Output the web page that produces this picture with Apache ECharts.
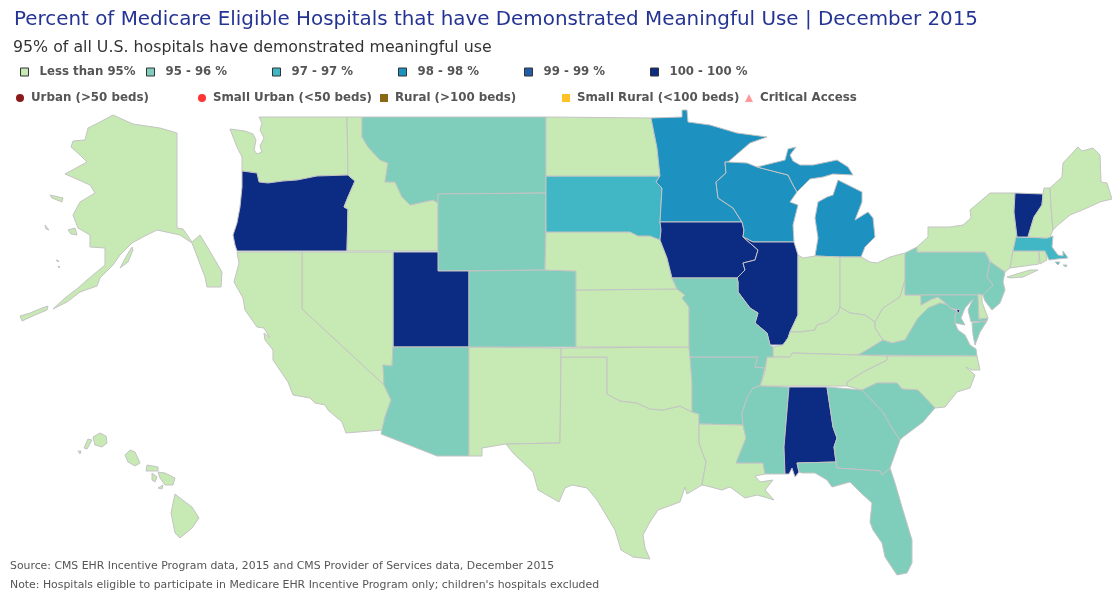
<!DOCTYPE html>
<html><head><meta charset="utf-8">
<style>html,body{margin:0;padding:0;background:#fff}#c{width:1112px;height:600px}</style>
<script src="https://cdn.jsdelivr.net/npm/echarts@6/dist/echarts.min.js"></script>
</head><body><div id="c"></div>
<script>
const titleText = "Percent of Medicare Eligible Hospitals that have Demonstrated Meaningful Use | December 2015";
const subtitleText = "95% of all U.S. hospitals have demonstrated meaningful use";
const sourceText = "Source: CMS EHR Incentive Program data, 2015 and CMS Provider of Services data, December 2015";
const noteText = "Note: Hospitals eligible to participate in Medicare EHR Incentive Program only; children's hospitals excluded";

const bucketLabels = ["Less than 95%","95 - 96 %","97 - 97 %","98 - 98 %","99 - 99 %","100 - 100 %"];
const bucketColors = ["#C7E9B4","#7FCDBB","#41B6C4","#1D91C0","#225EA8","#0C2C84"];
const hospitalLabels = ["Urban (>50 beds)","Small Urban (<50 beds)","Rural (>100 beds)","Small Rural (<100 beds)","Critical Access"];
const hospitalColors = ["#8B1A1A","#FF3333","#8B6914","#FFC125","#FF9999"];
const hospitalIcons = ["circle","circle","rect","rect","triangle"];

const stateBuckets = {
  AK:0,AL:5,AR:1,AZ:1,CA:0,CO:1,CT:0,DC:5,DE:0,FL:1,GA:1,HI:0,IA:5,ID:0,IL:5,IN:0,KS:0,KY:0,LA:0,MA:2,MD:1,ME:0,MI:3,MN:3,
  MO:1,MS:1,MT:1,NC:0,ND:0,NE:0,NH:0,NJ:1,NM:0,NV:0,NY:0,OH:0,OK:0,OR:5,PA:1,RI:0,SC:1,SD:2,TN:0,TX:0,UT:5,VA:1,VT:5,WA:0,WI:3,WV:0,WY:1
};

// Map outline resource (no US map ships with ECharts): simplified state shapes in map units.
const stateShapes = {
WA:[[[259,117],[347,117],[348,175],[317,176],[297,180],[283,181],[268,183],[259,182],[257,173],[242,171],[242,157],[237,147],[230,129],[245,131],[253,134],[256,140],[254,150],[257,154],[262,152],[260,146],[264,138],[260,130],[262,123]]],
OR:[[[242,171],[257,173],[259,182],[268,183],[283,181],[297,180],[317,176],[348,175],[355,181],[348,197],[344,207],[348,209],[347,251],[237,251],[235,245],[233,235],[237,223],[240,207],[242,187]]],
ID:[[[347,117],[362,117],[362,137],[368,147],[380,160],[388,163],[385,182],[395,182],[402,197],[410,205],[433,200],[438,203],[438,251],[347,251],[348,209],[344,207],[348,197],[355,181],[348,175]]],
MT:[[[362,117],[546,117],[546,193],[438,194],[438,203],[433,200],[410,205],[402,197],[395,182],[385,182],[388,163],[380,160],[368,147],[362,137]]],
WY:[[[438,194],[546,193],[545,270],[438,271]]],
UT:[[[393,252],[438,252],[438,271],[469,271],[469,347],[393,347]]],
NV:[[[302,252],[393,252],[393,347],[392,366],[383,365],[384,385],[302,309]]],
CA:[[[237,252],[302,252],[302,309],[384,385],[391,400],[385,417],[382,430],[346,433],[342,422],[328,410],[325,405],[315,403],[310,398],[293,395],[288,382],[273,360],[273,350],[265,340],[264,333],[270,338],[264,328],[257,327],[245,310],[243,298],[234,282],[239,263]]],
AZ:[[[393,347],[469,347],[469,456],[437,456],[381,434],[382,430],[385,417],[391,400],[384,385],[383,365],[392,366]]],
NM:[[[469,347],[561,348],[561,357],[560,443],[506,444],[482,448],[482,456],[469,456]]],
CO:[[[469,271],[545,270],[576,271],[576,347],[469,347]]],
TX:[[[561,357],[607,357],[607,394],[620,401],[637,403],[650,409],[663,410],[680,406],[692,412],[699,414],[699,443],[706,462],[702,485],[687,494],[685,487],[680,502],[658,510],[650,522],[643,535],[645,548],[650,559],[633,557],[621,550],[615,530],[597,500],[587,488],[572,485],[565,488],[559,502],[538,490],[533,472],[513,453],[506,444],[560,443]]],
OK:[[[561,348],[689,347],[690,357],[692,383],[692,412],[680,406],[663,410],[650,409],[637,403],[620,401],[607,394],[607,357],[561,357]]],
KS:[[[576,290],[677,289],[685,295],[682,298],[689,307],[689,347],[576,347]]],
NE:[[[546,232],[630,232],[638,236],[650,236],[661,240],[667,258],[672,278],[677,289],[576,290],[576,271],[545,270]]],
SD:[[[546,176],[660,176],[656,182],[662,188],[660,222],[661,230],[660,240],[650,236],[638,236],[630,232],[546,232]]],
ND:[[[546,117],[651,118],[657,148],[660,176],[546,176]]],
MN:[[[651,118],[682,117],[682,110],[687,110],[688,122],[710,125],[737,133],[767,137],[750,143],[728,162],[725,162],[726,173],[716,182],[718,198],[733,208],[742,222],[660,222],[662,188],[656,182],[660,176],[657,148]]],
IA:[[[660,222],[742,222],[744,230],[743,237],[758,250],[755,260],[743,263],[745,270],[737,278],[672,278],[667,258],[660,240],[661,230]]],
WI:[[[725,162],[728,162],[747,163],[757,167],[788,175],[793,185],[797,192],[790,202],[798,205],[793,225],[794,242],[753,242],[743,237],[744,230],[742,222],[733,208],[718,198],[716,182],[726,173]]],
IL:[[[753,242],[794,242],[798,255],[798,305],[798,315],[790,332],[788,338],[783,345],[770,345],[767,333],[755,323],[758,313],[750,308],[738,292],[738,282],[737,278],[745,270],[743,263],[755,260],[758,250],[743,237]]],
MI:[[[815,256],[840,257],[861,257],[865,247],[875,237],[873,218],[868,212],[855,220],[862,202],[862,192],[838,180],[833,195],[827,197],[818,202],[815,218],[818,238]],
    [[757,167],[785,160],[788,149],[796,147],[790,155],[793,161],[800,165],[813,165],[837,160],[848,167],[853,175],[833,174],[823,177],[810,179],[797,192],[793,185],[788,175]]],
IN:[[[798,255],[803,258],[815,256],[840,257],[840,307],[838,313],[827,322],[817,325],[815,330],[800,332],[790,332],[798,315],[798,305]]],
OH:[[[840,257],[861,257],[870,262],[877,263],[890,257],[905,253],[905,280],[900,297],[883,308],[875,322],[865,315],[850,313],[840,307]]],
KY:[[[783,345],[788,338],[790,332],[800,332],[815,330],[817,325],[827,322],[838,313],[840,307],[850,313],[865,315],[875,322],[875,328],[883,340],[867,350],[858,355],[792,353],[790,357],[773,357],[773,347]]],
WV:[[[905,280],[905,295],[921,295],[921,305],[932,299],[938,297],[948,305],[940,303],[928,308],[918,318],[905,340],[892,343],[883,340],[875,328],[875,322],[883,308],[900,297]]],
PA:[[[905,253],[917,247],[917,252],[985,252],[990,262],[987,277],[993,285],[983,295],[905,295]]],
MD:[[[921,295],[978,295],[979,319],[988,318],[987,321],[971,322],[968,310],[973,299],[965,308],[961,318],[965,325],[955,323],[955,315],[958,310],[950,308],[948,305],[938,297],[932,299],[921,305]]],
DC:[[[957,309],[960,310],[959,313],[957,312]]],
DE:[[[978,294],[982,295],[982,302],[985,310],[988,318],[979,319]]],
VA:[[[948,305],[950,308],[957,311],[955,315],[955,323],[958,330],[965,335],[970,345],[976,349],[977,356],[858,355],[867,350],[883,340],[892,343],[905,340],[918,318],[928,308],[940,303]],
    [[972,323],[987,321],[980,332],[975,345],[973,335]]],
NC:[[[887,356],[977,356],[980,370],[972,370],[966,367],[975,375],[970,388],[957,392],[945,407],[935,408],[918,390],[902,389],[897,383],[877,383],[862,390],[847,386],[847,382],[863,372],[887,360]]],
TN:[[[760,386],[765,372],[767,357],[773,357],[790,357],[792,353],[858,355],[887,356],[887,360],[863,372],[847,382],[847,386]]],
AR:[[[690,357],[758,357],[755,367],[765,368],[760,386],[753,388],[747,398],[742,413],[743,425],[699,424],[699,414],[692,412],[692,383]]],
MO:[[[672,278],[737,278],[738,282],[738,292],[750,308],[758,313],[755,323],[767,333],[770,345],[773,347],[773,357],[767,357],[765,368],[755,367],[758,357],[690,357],[689,347],[689,307],[682,298],[685,295],[677,289]]],
LA:[[[699,424],[743,425],[746,438],[736,463],[763,463],[765,474],[755,476],[760,482],[773,480],[765,490],[774,500],[768,498],[757,495],[745,498],[730,487],[722,490],[707,486],[702,485],[706,462],[699,443]]],
MS:[[[753,388],[760,386],[789,387],[784,447],[785,474],[765,474],[763,463],[736,463],[746,438],[743,425],[742,413],[747,398]]],
AL:[[[789,387],[827,387],[833,427],[837,438],[834,447],[836,462],[797,463],[799,472],[795,477],[792,468],[789,474],[785,474],[784,447]]],
GA:[[[827,387],[862,390],[883,412],[892,428],[900,440],[890,468],[882,475],[880,471],[837,468],[836,462],[834,447],[837,438],[833,427]]],
SC:[[[862,390],[877,383],[897,383],[902,389],[918,390],[935,408],[923,422],[903,437],[900,440],[892,428],[883,412]]],
FL:[[[797,463],[836,462],[837,468],[880,471],[882,475],[890,468],[895,483],[902,507],[912,540],[912,563],[907,573],[897,575],[885,557],[882,543],[873,530],[870,522],[872,503],[860,492],[850,482],[832,487],[827,480],[815,473],[802,473],[799,472]]],
NY:[[[917,247],[928,237],[928,227],[950,227],[963,225],[971,218],[970,210],[990,193],[1015,193],[1014,212],[1017,237],[1013,250],[1010,268],[1005,272],[992,263],[985,252],[917,252]],
    [[1007,277],[1030,270],[1038,270],[1023,277],[1010,278]]],
NJ:[[[990,262],[992,263],[1005,272],[1003,282],[1005,290],[1000,303],[992,310],[985,301],[983,295],[993,285],[987,277]]],
CT:[[[1013,251],[1039,251],[1039,264],[1010,268]]],
RI:[[[1039,251],[1045,251],[1047,260],[1040,264]]],
MA:[[[1016,237],[1047,238],[1053,236],[1052,247],[1058,255],[1063,256],[1063,251],[1068,258],[1057,259],[1049,260],[1045,251],[1013,251]],
    [[1055,262],[1060,262],[1058,265]],[[1063,265],[1067,265],[1066,267]]],
VT:[[[1015,193],[1043,194],[1042,205],[1034,217],[1028,237],[1017,237],[1014,212]]],
NH:[[[1043,194],[1044,188],[1050,188],[1051,207],[1053,230],[1050,237],[1047,238],[1028,237],[1034,217],[1042,205]]],
ME:[[[1050,188],[1062,177],[1063,163],[1078,147],[1082,151],[1093,148],[1100,155],[1101,182],[1107,183],[1112,199],[1100,202],[1087,208],[1070,215],[1058,225],[1053,230],[1051,207]]],
AK:[[[113,115],[133,124],[160,128],[177,133],[177,228],[183,229],[192,242],[200,235],[208,248],[222,272],[221,287],[207,287],[205,277],[192,243],[180,235],[157,230],[143,237],[132,243],[120,255],[113,265],[100,278],[97,286],[80,292],[67,302],[53,309],[65,298],[78,288],[87,280],[105,265],[105,248],[90,247],[90,235],[78,228],[73,215],[80,202],[95,193],[90,185],[72,177],[65,174],[87,162],[80,155],[71,147],[73,141],[85,140],[88,128],[100,122]],
    [[132,247],[127,255],[120,268],[128,262],[133,250]],
    [[50,195],[63,198],[62,202],[52,198]],
    [[68,230],[75,228],[77,235],[71,234]],
    [[45,225],[49,230],[46,229]],
    [[56,260],[59,261],[58,262]],[[58,266],[60,267],[59,268]],
    [[20,316],[30,313],[42,308],[48,306],[47,310],[35,315],[22,321]]],
HI:[[[93,437],[100,433],[106,436],[107,443],[102,447],[95,445]],
    [[88,439],[92,440],[87,449],[84,448]],
    [[78,451],[81,451],[80,454]],
    [[130,450],[135,452],[140,463],[135,466],[128,462],[125,455]],
    [[147,465],[158,467],[158,471],[146,471]],
    [[152,473],[157,477],[155,482],[152,480]],
    [[158,472],[165,473],[175,478],[173,485],[165,485],[160,478]],
    [[158,488],[163,485],[162,489]],
    [[175,494],[180,498],[192,507],[199,518],[192,528],[180,538],[175,533],[171,513]]]
};

const geoJson = {type:"FeatureCollection",features:Object.keys(stateShapes).map(n=>({
  type:"Feature",properties:{name:n},
  geometry:{type:"MultiPolygon",coordinates:stateShapes[n].map(r=>[r])}
}))};
echarts.registerMap("usa",geoJson);

const chart = echarts.init(document.getElementById("c"),null,{renderer:"canvas"});
const FONT = "DejaVu Sans";
const row1X = [20,146,272,398,524,650];
const row2X = [16,198,380,562,745];

const legends = [];
bucketLabels.forEach((name,i)=>legends.push({
  data:[{name,icon:"rect"}],left:row1X[i],top:66,itemWidth:8,itemHeight:8,
  selectedMode:false,padding:0,
  itemStyle:{borderColor:"#333",borderWidth:1},
  textStyle:{fontFamily:FONT,fontSize:11.75,fontWeight:"bold",color:"#555",padding:[0,0,0,6]}
}));
hospitalLabels.forEach((name,i)=>legends.push({
  data:[{name,icon:hospitalIcons[i]}],left:row2X[i],top:92,itemWidth:8,itemHeight:8,
  selectedMode:false,padding:0,
  textStyle:{fontFamily:FONT,fontSize:11.85,fontWeight:"bold",color:"#555",padding:[0,0,0,2]}
}));

const series = [{
  type:"map",map:"usa",
  projection:{project:p=>p,unproject:p=>p},
  boundingCoords:[[0,0],[1112,600]],
  left:0,top:0,width:1112,height:600,roam:false,silent:true,showLegendSymbol:false,
  label:{show:false},emphasis:{disabled:true},select:{disabled:true},
  itemStyle:{borderColor:"#C4C4C4",borderWidth:1},
  data:Object.keys(stateBuckets).map(n=>({name:n,value:stateBuckets[n],
    itemStyle:{areaColor:bucketColors[stateBuckets[n]]}}))
}];
bucketLabels.forEach((name,i)=>series.push({type:"scatter",coordinateSystem:"none",name,data:[],symbol:"rect",itemStyle:{color:bucketColors[i],opacity:1}}));
hospitalLabels.forEach((name,i)=>series.push({type:"scatter",coordinateSystem:"none",name,data:[],symbol:hospitalIcons[i],itemStyle:{color:hospitalColors[i],opacity:1}}));

chart.setOption({
  animation:false,backgroundColor:"#fff",
  title:[
    {text:titleText,left:14,top:10,padding:0,textStyle:{fontFamily:FONT,fontSize:19.9,fontWeight:"normal",color:"#253494"}},
    {text:subtitleText,left:13,top:40,padding:0,textStyle:{fontFamily:FONT,fontSize:15.8,fontWeight:"normal",color:"#333"}},
    {text:sourceText,left:10,top:561,padding:0,textStyle:{fontFamily:FONT,fontSize:10.87,fontWeight:"normal",color:"#555"}},
    {text:noteText,left:10,top:580,padding:0,textStyle:{fontFamily:FONT,fontSize:10.9,fontWeight:"normal",color:"#555"}}
  ],
  legend:legends,
  series
});
</script></body></html>
